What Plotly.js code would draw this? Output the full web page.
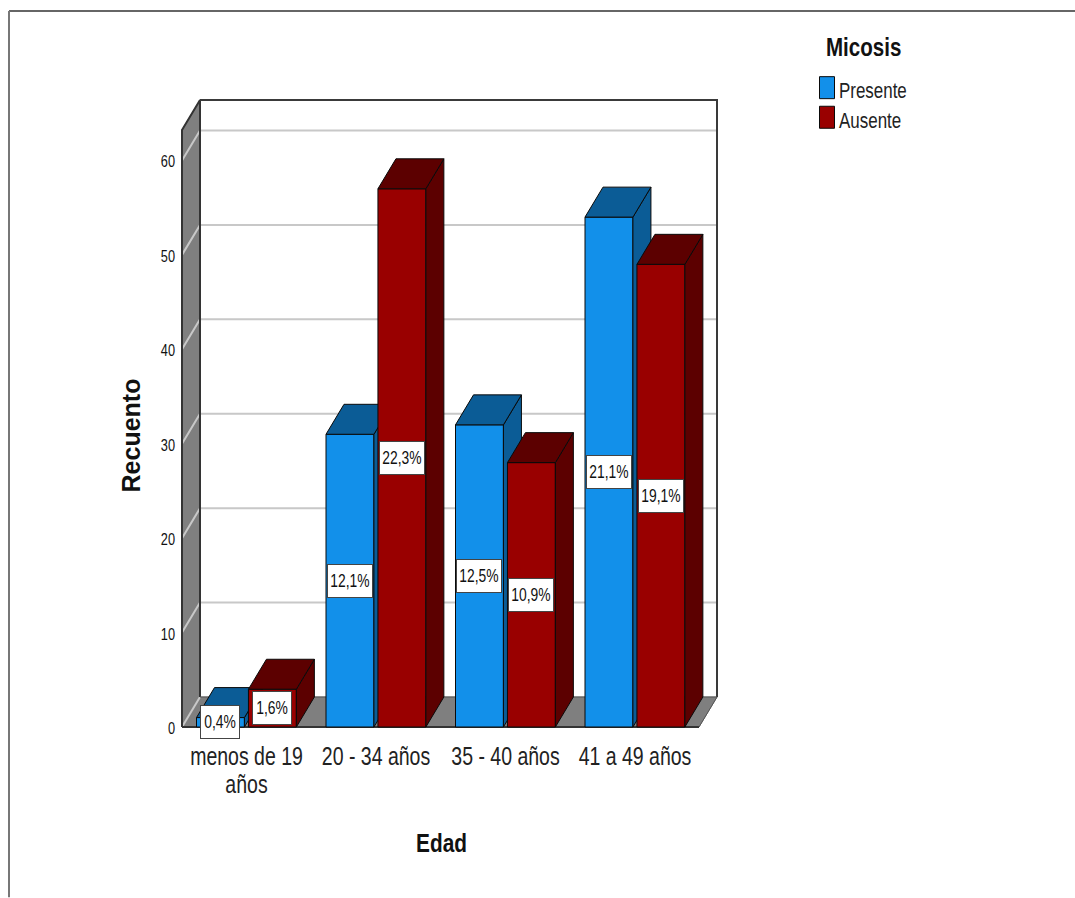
<!DOCTYPE html>
<html><head><meta charset="utf-8">
<script src="https://cdn.plot.ly/plotly-3.0.1.min.js"></script>
<style>html,body{margin:0;padding:0;background:#fff}#c{width:1075px;height:898px}</style>
</head><body><div id="c"></div>
<script>
// --- data ---
const categories = ["menos de 19<br>años", "20 - 34 años", "35 - 40 años", "41 a 49 años"];
const presente = [1, 31, 32, 54];
const ausente = [4, 57, 28, 49];
const presenteLabels = ["0,4%", "12,1%", "12,5%", "21,1%"];
const ausenteLabels = ["1,6%", "22,3%", "10,9%", "19,1%"];
const yTicks = [0, 10, 20, 30, 40, 50, 60];

// --- geometry of the pseudo-3D frame (pixels of the picture) ---
const W = 1075, H = 898;
const L = 182, R = 717, T = 100, B = 727.5, PAD = 4;
const unitX = 129.5, unitY = 9.45, zeroX = 246.5;
const dX = 18 / unitX, dY = 30 / unitY;           // depth vector, data units
const xMin = (L - zeroX) / unitX, xMax = (R - zeroX) / unitX;
const yMax = (B - T) / unitY;
const yFrontTop = yMax - dY, xFrontRight = xMax - dX;
const xRange = [xMin - PAD / unitX, xMax + PAD / unitX], yRange = [-PAD / unitY, yMax + PAD / unitY];
const barW = 0.37, offB = -0.386, offR = 0.015;
const xs = categories.map((_, i) => i);
const fontB = '"Liberation Sans", Arial, sans-serif';
const px = v => (v - (L - PAD)) / (R - L + 2 * PAD), py = v => (B + PAD - v) / (B - T + 2 * PAD);

function poly(xa, ya, fill, lineColor, width, axes) {
  return {type: 'scatter', mode: 'lines', x: xa, y: ya, fill: fill ? 'toself' : 'none', fillcolor: fill || undefined,
    line: {color: lineColor, width: width}, hoverinfo: 'skip', showlegend: false,
    xaxis: axes[0], yaxis: axes[1]};
}
function faces(values, off, axes, dark) {
  const sx = [], sy = [], tx = [], ty = [];
  values.forEach((v, i) => {
    const a = xs[i] + off, b = a + barW;
    sx.push(b, b + dX, b + dX, b, b, null); sy.push(0, dY, v + dY, v, 0, null);
    tx.push(a, a + dX, b + dX, b, a, null); ty.push(v, v + dY, v + dY, v, v, null);
  });
  return [poly(sx, sy, dark, '#0a0a0a', 1, axes), poly(tx, ty, dark, '#0a0a0a', 1, axes)];
}
function bar(name, values, off, color, axes) {
  return {type: 'bar', name: name, x: xs, y: values, width: barW, offset: off,
    marker: {color: color, line: {color: '#0a0a0a', width: 1}}, hoverinfo: 'skip',
    legendgroup: name, xaxis: axes[0], yaxis: axes[1]};
}
const A = ['x', 'y'], Bx = ['x2', 'y2'], Cx = ['x3', 'y3'];
const traces = [];
// walls and floor
traces.push(poly([xMin, xMin + dX, xMin + dX, xMin, xMin], [0, dY, yMax, yFrontTop, 0], '#7f7f7f', '#7f7f7f', 1, A));
traces.push(poly([xMin, xFrontRight, xMax, xMin + dX, xMin], [0, 0, dY, dY, 0], '#7f7f7f', '#7f7f7f', 1, A));
// gridlines on side wall and back wall
const gx = [], gy = [];
yTicks.forEach(t => {
  if (t > 0) { gx.push(xMin, xMin + dX, xMax, null); gy.push(t, t + dY, t + dY, null); }
  else { gx.push(xMin, xMin + dX, null); gy.push(t, t + dY, null); }
});
traces.push(poly(gx, gy, null, '#c8c8c8', 2, A));
// frame lines
traces.push(poly([xMin, xMin, xMin + dX, xMin + dX], [0, yFrontTop, yMax, dY], null, '#333333', 2, A));
traces.push(poly([xMin + dX, xMax, xMax], [yMax, yMax, dY], null, '#3a3a3a', 2, A));
traces.push(poly([xMin, xFrontRight], [0, 0], null, '#333333', 2, A));
traces.push(poly([xFrontRight, xMax, xMin + dX], [0, dY, dY], null, '#555555', 1, A));
// series
traces.push(bar('Presente', presente, offB, '#1290EA', Bx), ...faces(presente, offB, Bx, '#0B5C96'));
traces.push(bar('Ausente', ausente, offR, '#990000', Cx), ...faces(ausente, offR, Cx, '#5C0000'));

function label(text, v, i, off) {
  return {xref: 'x3', yref: 'y3', x: xs[i] + off + barW / 2, y: v / 2, text: text, showarrow: false,
    bgcolor: '#fff', bordercolor: '#444', borderwidth: 1, borderpad: 0,
    width: text.length < 5 ? 38 : 44, height: 32, align: 'center', valign: 'middle',
    font: {family: fontB, size: 18, color: '#111'}};
}
const annotations = [];
presente.forEach((v, i) => annotations.push(label(presenteLabels[i], v, i, offB)));
ausente.forEach((v, i) => annotations.push(label(ausenteLabels[i], v, i, offR)));

const hidden = o => ({visible: false, fixedrange: true, ...o});
const layout = {
  width: W, height: H, autosize: false, showlegend: true,
  margin: {l: L - PAD, r: W - R - PAD, t: T - PAD, b: H - B - PAD, pad: 0},
  paper_bgcolor: '#fff', plot_bgcolor: 'rgba(0,0,0,0)',
  hovermode: false, barmode: 'overlay', font: {family: fontB, color: '#111'},
  xaxis: {range: xRange, tickmode: 'array', tickvals: xs, ticktext: categories, tickangle: 0, showgrid: false, zeroline: false,
    showline: false, ticks: '', ticklabelstandoff: 7, fixedrange: true, automargin: false,
    tickfont: {family: fontB, size: 26, color: '#222'},
    title: {text: 'Edad', standoff: 30, font: {family: fontB, size: 26, weight: 700, color: '#111'}}},
  yaxis: {range: yRange, tickmode: 'array', tickvals: yTicks, showgrid: false, zeroline: false, showline: false,
    ticks: '', ticklabelstandoff: 2, fixedrange: true, automargin: false,
    tickfont: {family: fontB, size: 17, color: '#111'},
    title: {text: 'Recuento', standoff: 28, font: {family: fontB, size: 25, weight: 700, color: '#111'}}},
  xaxis2: hidden({range: xRange, overlaying: 'x'}),
  yaxis2: hidden({range: yRange, overlaying: 'y'}),
  xaxis3: hidden({range: xRange, overlaying: 'x'}),
  yaxis3: hidden({range: yRange, overlaying: 'y'}),
  legend: {x: px(797), y: py(22), xanchor: 'left', yanchor: 'top', bgcolor: 'rgba(0,0,0,0)', borderwidth: 0,
    tracegroupgap: 0, font: {family: fontB, size: 22, color: '#222'},
    title: {text: 'Micosis', side: 'top', font: {family: fontB, size: 26, weight: 700, color: '#111'}}},
  annotations: annotations,
  shapes: [
    {type: 'line', xref: 'paper', yref: 'paper', x0: px(9), x1: px(W), y0: py(11), y1: py(11), line: {color: '#666', width: 2}},
    {type: 'line', xref: 'paper', yref: 'paper', x0: px(9), x1: px(9), y0: py(11), y1: py(H), line: {color: '#777', width: 2}}
  ]
};
// the reference type is condensed: same glyphs, squeezed horizontally
function condense(sel, factor) {
  document.querySelectorAll(sel).forEach(t => {
    const lines = t.querySelectorAll('tspan.line');
    (lines.length ? lines : [t]).forEach(n => {
      n.setAttribute('textLength', (n.getComputedTextLength() * factor).toFixed(1));
      n.setAttribute('lengthAdjust', 'spacingAndGlyphs');
    });
  });
}
function squeeze(sel, factor) {
  document.querySelectorAll(sel).forEach(t => {
    const x = parseFloat(t.getAttribute('x')) || 0;
    t.setAttribute('transform', (t.getAttribute('transform') || '') + ' translate(' + x + ',0) scale(' + factor + ',1) translate(' + (-x) + ',0)');
  });
}
function shift2(el, dx, dy) {
  el.setAttribute('transform', 'translate(' + dx + ',' + dy + ') ' + (el.getAttribute('transform') || ''));
}
function shift(sel, dx, dy) {
  document.querySelectorAll(sel).forEach(t => shift2(t, dx, dy));
}
Plotly.newPlot('c', traces, layout, {displayModeBar: false, staticPlot: true}).then(() => {
  squeeze('#c .xtick text', 0.75);
  condense('#c .ytick text', 0.75);
  condense('#c .annotation-text', 0.77);
  condense('#c .legendtext', 0.77);
  condense('#c .legendtitletext', 0.79);
  condense('#c .xtitle', 0.8);
  document.querySelectorAll('#c .xtick text tspan.line').forEach((n, i) => { if (i === 1) n.setAttribute('dy', '28px'); });
  document.querySelectorAll('#c .legend .legendpoints path').forEach(p => p.setAttribute('d', 'M17.5,9H2.5V-13H17.5Z'));
  document.querySelectorAll('#c .legend .scrollbox').forEach(s => s.removeAttribute('clip-path'));
  shift('#c .legendtitletext', 27, 0);
  const items = document.querySelectorAll('#c .legend .traces');
  if (items[0]) shift2(items[0], 0, 13);
  if (items[1]) shift2(items[1], 0, 11);
  shift('#c .legendtext', 2, 0);
  shift('#c .ytick text', 0, 1);
  shift('#c .ytitle', 20, 22);
  shift('#c .xtitle', -8, 0);
});
</script></body></html>
